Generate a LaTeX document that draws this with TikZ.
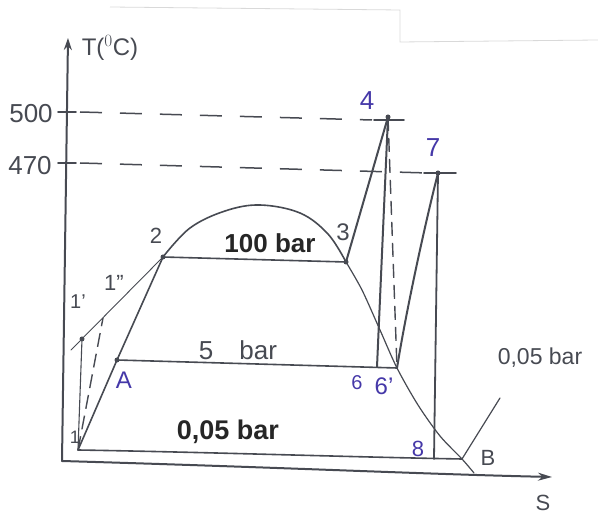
\documentclass[tikz,border=0pt]{standalone}
\usepackage{fontspec}
\setmainfont{Liberation Sans}
\usetikzlibrary{arrows.meta}
\definecolor{pencil}{rgb}{0.28,0.29,0.32}
\definecolor{inkblue}{rgb}{0.27,0.22,0.66}
\tikzset{
  pen/.style={draw=pencil,line width=1.6pt,line cap=round,line join=round},
  thinpen/.style={draw=pencil,line width=0.9pt,line cap=round},
  dashpen/.style={draw=pencil,line width=1.5pt,dash pattern=on 22pt off 18pt},
  vdash/.style={draw=pencil,line width=1.4pt,dash pattern=on 14pt off 7pt},
  blbl/.style={text=inkblue,inner sep=0pt,font=\fontsize{24}{24}\selectfont},
  glbl/.style={text=pencil,inner sep=0pt,font=\fontsize{22}{22}\selectfont},
  dot/.style={circle,fill=pencil,inner sep=0pt,minimum size=5pt},
}
\begin{document}
\begin{tikzpicture}[x=1pt,y=-1pt]
\useasboundingbox (0,0) rectangle (598,518);
% faint paper edge
\draw[black!15,line width=0.8pt] (110,7) -- (400,10) -- (400,42) -- (598,40);
% axes
\coordinate (O) at (62,461);
\coordinate (Ttop) at (68,38);
\coordinate (Send) at (552,477);
\draw[pen,line width=2pt,-{Stealth[length=12pt,width=8pt]}] (O) -- (Ttop);
\draw[pen,line width=2pt,-{Stealth[length=14pt,width=8pt]}] (O) .. controls (300,468) and (420,474) .. (Send);
\node[glbl,font=\fontsize{24}{24}\selectfont] (Tlab) at (110,48) {T($^{0}$C)};
\node[glbl] (Slab) at (543,503) {S};
% ticks
\coordinate (t500) at (66,112);
\coordinate (t470) at (66,163);
\draw[pen] (58,112) -- (76,112);
\draw[pen] (58,163) -- (76,163);
\node[glbl,font=\fontsize{26}{26}\selectfont] (l500) at (31,114) {500};
\node[glbl,font=\fontsize{26}{26}\selectfont] (l470) at (30,166) {470};
% state points
\coordinate (p1) at (78,450);
\coordinate (cl) at (71,350);
\coordinate (p1a) at (82,339);
\coordinate (p1b) at (103,318);
\coordinate (pA) at (117,360);
\coordinate (p2) at (163,257);
\coordinate (p3) at (346,262);
\coordinate (p4) at (388,117);
\coordinate (p6) at (377,367);
\coordinate (p6b) at (397,368);
\coordinate (p7) at (438,173);
\coordinate (p8) at (434,459);
\coordinate (pB) at (462,459);
\coordinate (iso) at (500,398);
% dashed temperature lines
\draw[dashpen] (80,112) -- (372,120);
\draw[dashpen] (80,163) -- (428,173);
\draw[pen] (374,120) -- (404,120);
\draw[pen] (424,173) -- (456,173);
% saturation dome
\draw[pen] (p1) -- (pA) -- (p2);
\draw[pen] plot[smooth,tension=0.6] coordinates {(p2) (190,228) (225,211) (260,205) (300,213) (328,234) (p3)};
\draw[pen,line width=1.2pt] plot[smooth,tension=0.5] coordinates {(p3) (362,290) (380,330) (p6b) (418,405) (440,436) (pB) (474,473)};
% isobars
\draw[pen] (p2) -- (p3);
\draw[pen] (pA) -- (p6b);
\draw[pen] (p1) .. controls (200,452) and (350,457) .. (pB);
\draw[pen,line width=1.2pt] (pB) -- (iso);
% compressed liquid line and pump
\draw[thinpen] (cl) -- (p2);
\draw[thinpen,line width=1.1pt] (p1) -- (p1a);
\draw[vdash] (p1) -- (p1b);
% cycle on the right
\draw[pen,line width=2pt] (p3) -- (p4);
\draw[pen,line width=2pt] (p4) -- (p6);
\draw[vdash] (p4) -- (p6b);
\draw[pen,line width=2pt] (p6b) .. controls (408,300) and (428,212) .. (p7);
\draw[pen,line width=1.8pt] (p7) -- (p8);
% dots
\foreach \p in {p2,p3,pA,p1a,p4,p7} \node[dot] at (\p) {};
% labels
\node[glbl] (n2) at (156,236) {2};
\node[glbl,font=\fontsize{24}{24}\selectfont] (n3) at (343,232) {3};
\node[blbl,font=\fontsize{26}{26}\selectfont] (n4) at (367,101) {4};
\node[blbl,font=\fontsize{26}{26}\selectfont] (n7) at (433,148) {7};
\node[blbl] (nA) at (124,380) {A};
\node[blbl,font=\fontsize{20}{20}\selectfont] (n6) at (357,383) {6};
\node[blbl] (n6b) at (384,386) {6'};
\node[blbl,font=\fontsize{22}{22}\selectfont] (n8) at (418,449) {8};
\node[glbl] (nB) at (488,458) {B};
\node[glbl,font=\fontsize{18}{18}\selectfont] (n1) at (75,437) {1};
\node[glbl,font=\fontsize{20}{20}\selectfont] (n1a) at (78,302) {1'};
\node[glbl,font=\fontsize{22}{22}\selectfont] (n1b) at (114,283) {1''};
\node[text=black!85,inner sep=0pt,font=\fontsize{26}{26}\selectfont\bfseries] (b100) at (270,243) {100 bar};
\node[glbl,font=\fontsize{26}{26}\selectfont] (b5) at (238,350) {5\quad bar};
\node[text=black!85,inner sep=0pt,font=\fontsize{27}{27}\selectfont\bfseries] (b005) at (228,432) {0,05 bar};
\node[glbl,font=\fontsize{23}{23}\selectfont] (b005r) at (540,358) {0,05 bar};
\end{tikzpicture}
\end{document}
